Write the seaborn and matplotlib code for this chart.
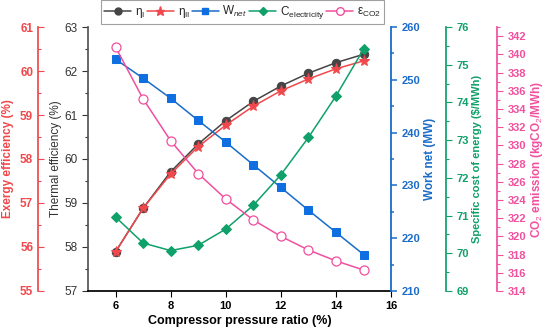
import matplotlib
matplotlib.use('Agg')
import matplotlib.pyplot as plt
import seaborn as sns
from matplotlib.ticker import MultipleLocator
from matplotlib.lines import Line2D

pressure_ratio = [6, 7, 8, 9, 10, 11, 12, 13, 14, 15]
thermal_eff = [57.89, 58.88, 59.71, 60.34, 60.87, 61.31, 61.66, 61.95, 62.19, 62.38]
exergy_eff = [55.89, 56.88, 57.66, 58.28, 58.77, 59.20, 59.55, 59.82, 60.05, 60.23]
work_net = [253.9, 250.3, 246.5, 242.3, 238.2, 233.9, 229.6, 225.3, 221.1, 216.9]
cost_elec = [70.96, 70.27, 70.07, 70.21, 70.64, 71.27, 72.08, 73.07, 74.17, 75.41]
co2_emission = [340.8, 335.1, 330.5, 326.9, 324.1, 321.8, 320.0, 318.5, 317.3, 316.3]
legend_labels = ['η$_{\\mathrm{I}}$', 'η$_{\\mathrm{II}}$', r'W$_{\mathit{net}}$',
                 r'C$_{\mathrm{electricity}}$', 'ε$_{\\mathrm{CO2}}$']

sns.set_theme(style='ticks')
plt.rcParams['font.family'] = ['Liberation Sans', 'DejaVu Sans']
plt.rcParams['mathtext.fontset'] = 'custom'
plt.rcParams['mathtext.rm'] = 'Liberation Sans'
plt.rcParams['mathtext.it'] = 'Liberation Sans:italic'

C_TH = '#454545'
C_EX = '#f0484c'
C_W = '#1a6cc8'
C_C = '#10a06a'
C_CO2 = '#f0509e'
C_W_M = '#0f6ee0'

fig = plt.figure(figsize=(5.5, 3.34), dpi=100)
ax = fig.add_axes([0.16, 0.129, 0.551, 0.790])
ax_ex = ax.twinx()
ax_w = ax.twinx()
ax_c = ax.twinx()
ax_co2 = ax.twinx()

fs_tick = 8
fs_lab = 8.5

# main: thermal
sns.lineplot(x=pressure_ratio, y=thermal_eff, ax=ax, color=C_TH, marker='o', markersize=6,
             markeredgecolor=C_TH, linewidth=1.1, zorder=5)
ax.set_xlim(5, 16)
ax.set_ylim(57, 63)
ax.xaxis.set_major_locator(MultipleLocator(2))
ax.yaxis.set_major_locator(MultipleLocator(1))
ax.yaxis.set_minor_locator(MultipleLocator(0.5))
ax.set_xlabel('Compressor pressure ratio (%)', fontsize=fs_lab + 0.5, fontweight='bold', color='black', labelpad=3)
ax.set_ylabel('Thermal efficiency (%)', fontsize=fs_lab, color='#333333', labelpad=2)
ax.tick_params(axis='y', labelsize=fs_tick + 0.5, colors='#333333', length=4, width=0.8, direction='out')
ax.tick_params(axis='y', which='minor', length=2.5, width=0.8, colors='#333333')
ax.tick_params(axis='x', labelsize=fs_tick, length=4, width=0.8, direction='out', colors='black')
for t in ax.get_xticklabels():
    t.set_fontweight('bold')
ax.spines['top'].set_visible(False)
ax.spines['right'].set_visible(False)
ax.spines['left'].set_color('#555555')
ax.spines['bottom'].set_color('black')

# exergy
sns.lineplot(x=pressure_ratio, y=exergy_eff, ax=ax_ex, color=C_EX, marker='*', markersize=8,
             markeredgecolor=C_EX, linewidth=1.1, zorder=6)
ax_ex.set_ylim(55, 61)
ax_ex.yaxis.set_label_position('left')
ax_ex.yaxis.set_ticks_position('left')
for s in ['top', 'right', 'bottom']:
    ax_ex.spines[s].set_visible(False)
ax_ex.spines['left'].set_position(('axes', -0.165))
ax_ex.spines['left'].set_color(C_EX)
ax_ex.yaxis.set_major_locator(MultipleLocator(1))
ax_ex.yaxis.set_minor_locator(MultipleLocator(0.5))
ax_ex.tick_params(axis='y', which='both', direction='in', colors=C_EX, labelsize=fs_tick + 0.5, width=0.8)
ax_ex.tick_params(axis='y', which='major', length=4)
ax_ex.tick_params(axis='y', which='minor', length=2.5)
ax_ex.set_ylabel('Exergy efficiency (%)', fontsize=fs_lab, color=C_EX, fontweight='bold', labelpad=4)

# work net
sns.lineplot(x=pressure_ratio, y=work_net, ax=ax_w, color=C_W, marker='s', markersize=5.5,
             markeredgecolor=C_W_M, markerfacecolor=C_W_M, linewidth=1.1, zorder=4)
ax_w.set_ylim(210, 260)
for s in ['top', 'left', 'bottom']:
    ax_w.spines[s].set_visible(False)
ax_w.spines['right'].set_color(C_W)
ax_w.spines['right'].set_linewidth(1.3)
ax_w.yaxis.set_major_locator(MultipleLocator(10))
ax_w.yaxis.set_minor_locator(MultipleLocator(5))
ax_w.tick_params(axis='y', which='both', direction='out', colors=C_W, labelsize=fs_tick, width=1.1)
ax_w.tick_params(axis='y', which='major', length=4)
ax_w.tick_params(axis='y', which='minor', length=2.5)
ax_w.set_ylabel('Work net (MW)', fontsize=fs_lab, color=C_W, fontweight='bold', labelpad=3)

# cost
sns.lineplot(x=pressure_ratio, y=cost_elec, ax=ax_c, color=C_C, marker='D', markersize=5.5,
             markeredgecolor=C_C, linewidth=1.1, zorder=4)
ax_c.set_ylim(69, 76)
for s in ['top', 'left', 'bottom']:
    ax_c.spines[s].set_visible(False)
ax_c.spines['right'].set_position(('axes', 1.181))
ax_c.spines['right'].set_color(C_C)
ax_c.yaxis.set_major_locator(MultipleLocator(1))
ax_c.yaxis.set_minor_locator(MultipleLocator(0.5))
ax_c.tick_params(axis='y', which='both', direction='out', colors=C_C, labelsize=fs_tick, width=0.8)
ax_c.tick_params(axis='y', which='major', length=4)
ax_c.tick_params(axis='y', which='minor', length=2.5)
ax_c.set_ylabel('Specific cost of energy ($/MWh)', fontsize=fs_lab - 0.5, color=C_C, fontweight='bold', labelpad=2)

# co2
sns.lineplot(x=pressure_ratio, y=co2_emission, ax=ax_co2, color=C_CO2, marker='o', markersize=6.5,
             markeredgecolor=C_CO2, markerfacecolor='white', markeredgewidth=0.9, linewidth=1.1, zorder=4)
ax_co2.set_ylim(314, 343)
for s in ['top', 'left', 'bottom']:
    ax_co2.spines[s].set_visible(False)
ax_co2.spines['right'].set_position(('axes', 1.35))
ax_co2.spines['right'].set_color(C_CO2)
ax_co2.set_yticks(list(range(314, 343, 2)))
ax_co2.yaxis.set_minor_locator(MultipleLocator(1))
ax_co2.tick_params(axis='y', which='both', direction='out', colors=C_CO2, labelsize=fs_tick, width=0.8)
ax_co2.tick_params(axis='y', which='major', length=4)
ax_co2.tick_params(axis='y', which='minor', length=2.5)
ax_co2.set_ylabel(r'CO$_2$ emission (kgCO$_2$/MWh)', fontsize=fs_lab, color=C_CO2, fontweight='bold', labelpad=2)

for a in [ax_ex, ax_w, ax_c, ax_co2]:
    for t in a.get_yticklabels():
        t.set_fontweight('bold')

handles = [
    Line2D([], [], color=C_TH, marker='o', markersize=5, linewidth=1.1),
    Line2D([], [], color=C_EX, marker='*', markersize=6.5, linewidth=1.1),
    Line2D([], [], color=C_W, marker='s', markersize=4.5, markerfacecolor=C_W_M, markeredgecolor=C_W_M, linewidth=1.1),
    Line2D([], [], color=C_C, marker='D', markersize=4.5, linewidth=1.1),
    Line2D([], [], color=C_CO2, marker='o', markersize=5.5, markerfacecolor='white', linewidth=1.1),
]
leg = ax_co2.legend(handles, legend_labels, ncol=5, loc='lower center', bbox_to_anchor=(0.51, 1.01),
                    frameon=True, fancybox=False, edgecolor='#888888', fontsize=8.5,
                    handlelength=2.3, handletextpad=0.3, columnspacing=0.15, borderpad=0.3,
                    borderaxespad=0.0)
leg.get_frame().set_linewidth(0.8)
leg.set_zorder(20)

fig.savefig('out.png', dpi=100)
